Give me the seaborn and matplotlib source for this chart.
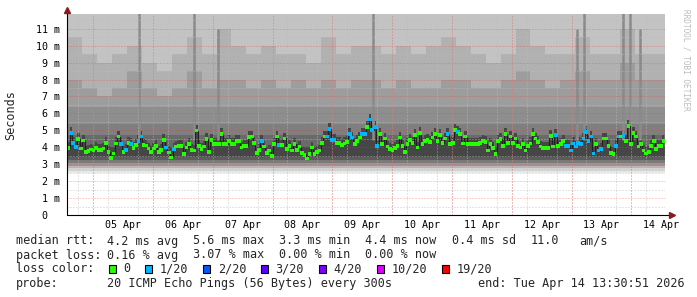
import numpy as np
import pandas as pd
import matplotlib
matplotlib.use("Agg")
import matplotlib.pyplot as plt
import seaborn as sns
from matplotlib.patches import Rectangle

# ---------------- data ----------------
median_ms = [
    3.94, 4.86, 4.27, 4.00, 4.47, 3.93, 4.40, 3.74, 3.77, 3.87, 3.80, 3.97, 3.84, 3.84, 3.92, 4.27,
    3.72, 3.37, 3.64, 4.23, 4.63, 4.20, 3.72, 3.84, 4.27, 4.20, 3.97, 4.13, 4.38, 4.63, 4.13, 4.10,
    3.92, 3.74, 3.92, 4.08, 3.74, 3.84, 4.43, 3.99, 3.70, 3.40, 3.90, 4.04, 4.08, 4.08, 3.62, 3.99,
    4.20, 3.84, 3.80, 4.99, 4.08, 3.88, 4.04, 4.47, 3.74, 4.43, 4.20, 4.20, 4.20, 4.80, 4.20, 4.20,
    4.38, 4.20, 4.20, 4.38, 4.38, 3.99, 4.08, 4.08, 4.60, 4.63, 4.27, 3.68, 3.84, 4.38, 4.04, 3.68,
    3.80, 3.48, 4.20, 4.63, 4.13, 4.13, 4.52, 3.88, 4.08, 3.80, 4.20, 3.84, 4.04, 3.68, 3.54, 3.33,
    3.60, 3.99, 3.60, 3.74, 3.80, 4.27, 4.63, 4.63, 5.06, 4.43, 4.43, 4.27, 4.27, 4.13, 4.23, 4.30,
    4.80, 4.58, 4.20, 4.38, 4.58, 4.80, 4.80, 5.21, 5.64, 5.02, 5.18, 4.08, 4.80, 4.20, 4.52, 4.04,
    3.88, 3.84, 3.94, 4.08, 4.58, 4.08, 3.74, 4.20, 4.43, 4.27, 4.72, 3.99, 4.84, 4.20, 4.38, 4.43,
    4.33, 4.58, 4.80, 4.38, 4.72, 4.27, 4.52, 4.80, 4.20, 4.27, 5.02, 4.92, 4.80, 4.23, 4.63, 4.20,
    4.20, 4.20, 4.20, 4.20, 4.27, 4.38, 4.33, 3.80, 4.20, 3.94, 3.60, 4.38, 4.47, 4.08, 4.80, 4.27,
    4.63, 4.27, 4.52, 4.08, 3.99, 4.20, 3.80, 4.08, 4.23, 4.80, 4.52, 4.33, 4.04, 3.94, 3.94, 3.94,
    4.67, 4.04, 4.72, 4.08, 4.20, 4.38, 4.08, 4.08, 3.80, 4.23, 4.04, 4.27, 4.20, 4.52, 4.92, 4.38,
    4.63, 3.64, 4.20, 3.80, 3.88, 4.52, 4.52, 4.08, 3.68, 3.60, 4.08, 4.63, 4.63, 4.67, 4.38, 5.25,
    4.20, 4.84, 4.63, 4.04, 4.20, 3.80, 3.64, 3.74, 4.08, 4.38, 3.88, 4.08, 4.08, 4.38,
]
loss_of_20 = [
    0, 1, 1, 1, 0, 0, 0, 0, 0, 0, 0, 0, 0, 0, 0, 0,
    0, 0, 0, 0, 0, 1, 0, 1, 0, 1, 0, 0, 1, 1, 0, 0,
    0, 0, 0, 0, 0, 0, 0, 1, 0, 0, 1, 0, 0, 0, 0, 0,
    0, 0, 0, 0, 0, 0, 0, 0, 0, 0, 0, 0, 0, 0, 0, 0,
    0, 0, 0, 0, 0, 0, 0, 0, 0, 0, 0, 0, 0, 1, 0, 0,
    0, 0, 0, 0, 1, 0, 0, 0, 0, 0, 0, 0, 0, 0, 0, 0,
    0, 0, 0, 0, 0, 0, 0, 1, 1, 1, 1, 0, 0, 0, 0, 0,
    1, 1, 0, 0, 0, 1, 1, 0, 1, 1, 1, 1, 0, 0, 0, 0,
    0, 0, 0, 0, 0, 0, 0, 0, 0, 0, 0, 0, 0, 0, 0, 0,
    0, 0, 0, 0, 0, 0, 0, 1, 0, 0, 0, 1, 0, 0, 0, 0,
    0, 0, 0, 0, 0, 0, 0, 0, 0, 0, 0, 0, 0, 0, 0, 0,
    0, 0, 0, 0, 0, 0, 0, 0, 0, 0, 0, 0, 0, 0, 0, 0,
    0, 0, 1, 0, 0, 0, 1, 1, 1, 1, 1, 1, 1, 1, 1, 1,
    1, 1, 0, 1, 1, 0, 0, 0, 0, 0, 1, 1, 0, 1, 0, 0,
    0, 0, 0, 0, 0, 0, 0, 0, 0, 0, 0, 0, 0, 0,
]

# smoke, per 6-hour block (ms): where the lighter grey bands begin
smoke_light_from = [10.5, 9.5, 9.0, 9.5, 10.0, 9.0, 8.5, 9.5, 10.5, 9.5, 11.0, 10.0, 9.5, 10.0, 9.5,
                    9.5, 9.0, 10.5, 9.5, 10.0, 10.0, 9.5, 10.0, 9.5, 10.0, 10.5, 10.0, 9.5, 9.0, 9.5,
                    11.0, 10.0, 9.5, 9.5, 10.5, 9.5, 9.5, 11.0, 9.5, 9.5]
smoke_mid_from = [8.0, 7.5, 7.0, 7.5, 8.5, 7.5, 7.0, 7.5, 8.5, 7.5, 8.0, 8.0, 7.5, 8.0, 7.5,
                  8.0, 7.5, 8.0, 7.5, 8.0, 8.0, 7.5, 8.0, 7.5, 7.5, 8.0, 8.0, 7.5, 7.5, 8.0,
                  8.5, 8.0, 7.5, 8.0, 8.5, 8.0, 8.0, 9.0, 8.0, 8.0]
smoke_upper_levels = [4.7, 5.4, 6.4]                      # grey band edges above the median
smoke_lower_levels = [2.50, 2.62, 2.75, 2.90, 3.05, 3.25, 3.45]  # fading lower edge
smoke_top = 11.9
# dark streaks reaching high (hour index, top in ms)
spike_hours = [29, 51, 60.5, 123, 204.5, 207.5, 223, 226, 230]
spike_tops = [11.9, 11.9, 11.0, 11.9, 11.0, 11.9, 11.9, 11.9, 11.0]

day_labels = ["05 Apr", "06 Apr", "07 Apr", "08 Apr", "09 Apr", "10 Apr", "11 Apr", "12 Apr", "13 Apr", "14 Apr"]
y_tick_values = list(range(0, 12))
y_tick_labels = ["0  "] + [f"{v} m" for v in range(1, 12)]

loss_labels = ["0", "1/20", "2/20", "3/20", "4/20", "10/20", "19/20"]
loss_colors = ["#26ff00", "#00b8ff", "#0059ff", "#5e00ff", "#7e00ff", "#dd00ff", "#ff0000"]

stat_rtt = ["4.2 ms avg", "5.6 ms max", "3.3 ms min", "4.4 ms now", "0.4 ms sd", "11.0", "am/s"]
stat_loss = ["0.16 % avg", "3.07 % max", "0.00 % min", "0.00 % now"]
probe_text = "20 ICMP Echo Pings (56 Bytes) every 300s"
end_text = "end: Tue Apr 14 13:30:51 2026"

# ---------------- figure ----------------
W, H = 697, 297
MONO = "DejaVu Sans Mono"
sns.set_style("white")
plt.rcParams["font.family"] = [MONO]

fig = plt.figure(figsize=(W / 100, H / 100), dpi=100)
fig.patch.set_facecolor("white")
ax = fig.add_axes([67 / W, 1 - 215 / H, 598 / W, 201 / H])
ax.set_facecolor("white")

n = len(median_ms)
hours = np.linspace(0.5, 239.5, n)
med = np.array(median_ms)
df = pd.DataFrame({"hour": hours, "median": med,
                   "loss": [loss_labels[1] if l else loss_labels[0] for l in loss_of_20]})

# smoke: block bands
edges = np.arange(0, 241, 6)
light = np.append(smoke_light_from, smoke_light_from[-1])
mid = np.append(smoke_mid_from, smoke_mid_from[-1])
kw = dict(step="post", linewidth=0, antialiased=False, zorder=1)
ax.fill_between(edges, smoke_lower_levels[0], smoke_top, color="#c3c3c3", **kw)
ax.fill_between(edges, smoke_lower_levels[0], light, color="#b1b1b1", **kw)
ax.fill_between(edges, smoke_lower_levels[0], mid, color="#9d9d9d", **kw)
upper_cols = ["#6a6a6a", "#7f7f7f", "#8e8e8e"]
for lvl, col in zip(smoke_upper_levels[::-1], upper_cols[::-1]):
    ax.fill_between([0, 240], smoke_lower_levels[0], lvl, color=col, linewidth=0, antialiased=False, zorder=1)
lower_cols = ["#e8e8e8", "#d2d2d2", "#b6b6b6", "#989898", "#7a7a7a", "#5c5c5c", "#4a4a4a"]
for i, col in enumerate(lower_cols):
    top = smoke_lower_levels[i + 1] if i + 1 < len(smoke_lower_levels) else 4.0
    ax.fill_between([0, 240], smoke_lower_levels[i], top, color=col, linewidth=0, antialiased=False, zorder=1.1)
# dark core around the median
ax.fill_between(hours, smoke_lower_levels[-1], med + 0.35, step="mid", color="#464646",
                linewidth=0, antialiased=False, zorder=1.2)
ax.vlines(spike_hours, 4.4, spike_tops, color="#8a8a8a", linewidth=1.8, zorder=1.3)

# grid
ax.set_xlim(0, 240)
ax.set_ylim(0, 11.87)
midnights = 10.49 + 24 * np.arange(10)
noons = midnights + 12
six_h = np.arange(4.49, 240, 6)
ax.set_xticks(noons)
ax.set_xticklabels(day_labels)
ax.set_xticks(six_h, minor=True)
ax.set_yticks(y_tick_values)
ax.set_yticklabels(y_tick_labels)
ax.set_yticks(np.arange(0.5, 11.87, 1.0), minor=True)
ax.set_axisbelow(False)
dots = (0, (1, 2))
ax.grid(False)
ax.grid(which="minor", axis="both", color="#bdbdbd", alpha=0.8, linestyle=dots, linewidth=0.72)
ax.grid(which="major", axis="y", color="#ff3030", alpha=0.45, linestyle=dots, linewidth=0.72)
for m in midnights[midnights < 240]:
    ax.axvline(m, color="#ff3030", alpha=0.45, linestyle=dots, linewidth=0.72, zorder=2.6)

# median: dark connectors + loss-coloured squares
sns.lineplot(data=df, x="hour", y="median", drawstyle="steps-mid", color="#222222",
             linewidth=0.8, estimator=None, ax=ax, zorder=3)
sns.scatterplot(data=df, x="hour", y="median", hue="loss",
                palette={loss_labels[0]: loss_colors[0], loss_labels[1]: loss_colors[1]},
                marker="s", s=7, linewidth=0, legend=False, ax=ax, zorder=4)
ax.set_xlabel("")
ax.set_ylabel("")

for s in ax.spines.values():
    s.set_visible(False)
ax.tick_params(axis="both", which="both", length=0, labelsize=7.2, colors="black")
ax.tick_params(axis="x", pad=3.5)
ax.tick_params(axis="y", pad=5)
for t in ax.get_xticklabels() + ax.get_yticklabels():
    t.set_fontfamily(MONO)

# axes lines with arrows
ax.plot([0, 1.012], [0, 0], transform=ax.transAxes, color="black", lw=0.8, clip_on=False, zorder=5)
ax.plot([0, 0], [0, 1.02], transform=ax.transAxes, color="black", lw=0.8, clip_on=False, zorder=5)
ax.plot([1.012], [0], transform=ax.transAxes, marker=">", color="#8b1a1a", ms=4, clip_on=False, zorder=6)
ax.plot([0], [1.02], transform=ax.transAxes, marker="^", color="#8b1a1a", ms=4, clip_on=False, zorder=6)

# texts
def ftext(x, y, s, **k):
    fig.text(x / W, 1 - y / H, s, family=MONO, va="center", **k)

ftext(11, 115, "Seconds", rotation=90, ha="center", fontsize=8.5)
ftext(686, 60, "RRDTOOL / TOBI OETIKER", rotation=270, ha="center", fontsize=5.6, color="#bcbcbc")

cw = 7.1
rtt_x = [107.3, 193.3, 279.3, 365.0, 451.7, 530.7, 579.3]
ftext(16, 241, "median rtt:", ha="left", fontsize=8.5)
for xx, s in zip(rtt_x, stat_rtt):
    ftext(xx, 241, s, ha="left", fontsize=8.5)
ftext(16, 255, "packet loss:", ha="left", fontsize=8.5)
for xx, s in zip(rtt_x, stat_loss):
    ftext(xx, 255, s, ha="left", fontsize=8.5)
ftext(16, 269, "loss color:", ha="left", fontsize=8.5)
cursor = 107.3
for lab, col in zip(loss_labels, loss_colors):
    bx = cursor + 1.4
    fig.add_artist(Rectangle((bx / W, 1 - 273 / H), 6.8 / W, 8 / H, transform=fig.transFigure,
                             facecolor=col, edgecolor="black", linewidth=0.8))
    lx = bx + 14.5
    ftext(lx, 269, lab, ha="left", fontsize=8.5)
    cursor = lx + (len(lab) + 2) * cw - 0.6
ftext(16, 283, "probe:", ha="left", fontsize=8.5)
ftext(107.3, 283, probe_text, ha="left", fontsize=8.5)
ftext(478.3, 283, end_text, ha="left", fontsize=8.5)

fig.savefig("out.png", dpi=100, facecolor="white")
